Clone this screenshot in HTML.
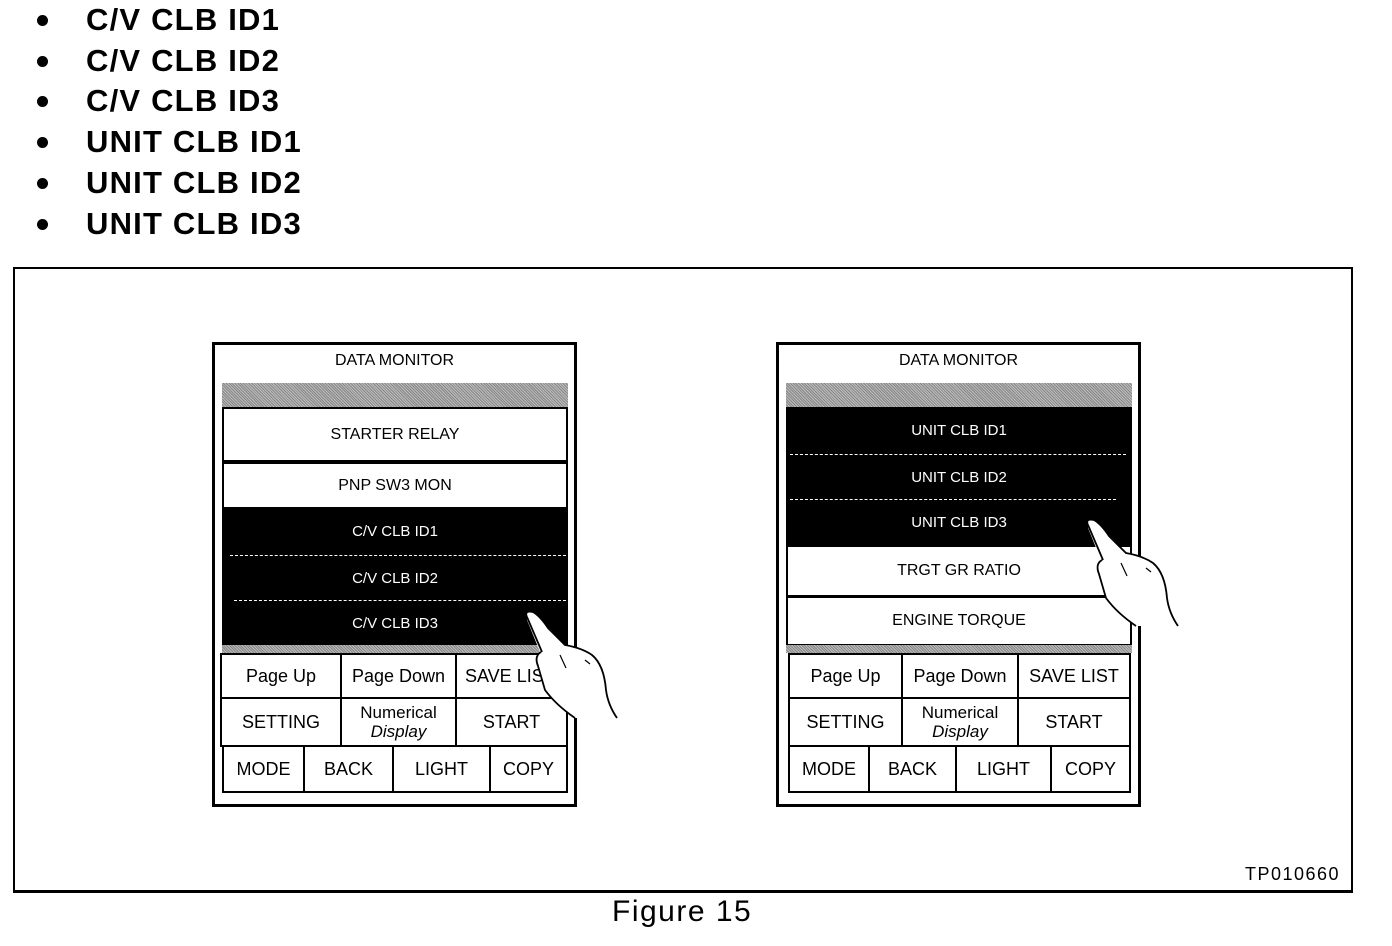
<!DOCTYPE html>
<html><head><meta charset="utf-8"><style>
body{margin:0;width:1392px;height:946px;background:#fff;position:relative;overflow:hidden;font-family:"Liberation Sans",Arial,sans-serif;color:#000}
.a{position:absolute;box-sizing:border-box}
.c{display:flex;align-items:center;justify-content:center;text-align:center}
.bl{font-weight:bold;font-size:31px;left:86px;letter-spacing:1.2px;line-height:34px}
.dot{left:37px;width:11px;height:11px;border-radius:50%;background:#000}
.gray{background:repeating-linear-gradient(45deg,#888 0 1px,#bbb 1px 2px);}
.blk{background:#000;color:#fff;font-size:15px}
.wr{background:#fff;border:2px solid #000;font-size:16px}
.btn{border:2px solid #000;background:#fff;font-size:18px;line-height:19px}
.dash{border-top:1px dashed #fff;height:0}
</style></head><body>
<div class="a dot" style="top:15px"></div><div class="a bl" style="top:3px">C/V CLB ID1</div>
<div class="a dot" style="top:56px"></div><div class="a bl" style="top:44px">C/V CLB ID2</div>
<div class="a dot" style="top:96px"></div><div class="a bl" style="top:84px">C/V CLB ID3</div>
<div class="a dot" style="top:137px"></div><div class="a bl" style="top:125px">UNIT CLB ID1</div>
<div class="a dot" style="top:178px"></div><div class="a bl" style="top:166px">UNIT CLB ID2</div>
<div class="a dot" style="top:219px"></div><div class="a bl" style="top:207px">UNIT CLB ID3</div>

<div class="a" style="left:13px;top:267px;width:1340px;height:626px;border:2px solid #000;border-bottom-width:3px"></div>
<div class="a" style="left:1245px;top:864px;font-size:18px;letter-spacing:1.5px">TP010660</div>
<div class="a" style="left:612px;top:895px;font-size:30px;letter-spacing:1.5px">Figure 15</div>

<!-- LEFT PANEL -->
<div class="a" style="left:212px;top:342px;width:365px;height:465px;border:3px solid #000"></div>
<div class="a c" style="left:212px;top:349px;width:365px;height:24px;font-size:16px">DATA MONITOR</div>
<div class="a gray" style="left:222px;top:383px;width:346px;height:25px"></div>
<div class="a c wr" style="left:222px;top:407px;width:346px;height:55px">STARTER RELAY</div>
<div class="a c wr" style="left:222px;top:462px;width:346px;height:47px">PNP SW3 MON</div>
<div class="a blk" style="left:222px;top:508px;width:346px;height:138px"></div>
<div class="a c blk" style="left:222px;top:508px;width:346px;height:46px">C/V CLB ID1</div>
<div class="a dash" style="left:230px;top:555px;width:336px"></div>
<div class="a c blk" style="left:222px;top:556px;width:346px;height:44px">C/V CLB ID2</div>
<div class="a dash" style="left:234px;top:600px;width:332px"></div>
<div class="a c blk" style="left:222px;top:601px;width:346px;height:44px">C/V CLB ID3</div>
<div class="a gray" style="left:222px;top:645px;width:346px;height:8px"></div>
<div class="a c btn" style="left:220px;top:653px;width:122px;height:46px">Page Up</div>
<div class="a c btn" style="left:340px;top:653px;width:117px;height:46px">Page Down</div>
<div class="a c btn" style="left:455px;top:653px;width:113px;height:46px;justify-content:flex-start;padding-left:8px">SAVE LIST</div>
<div class="a c btn" style="left:220px;top:697px;width:122px;height:50px">SETTING</div>
<div class="a c btn" style="left:340px;top:697px;width:117px;height:50px;font-size:17px"><span>Numerical<br><i>Display</i></span></div>
<div class="a c btn" style="left:455px;top:697px;width:113px;height:50px">START</div>
<div class="a c btn" style="left:222px;top:745px;width:83px;height:48px">MODE</div>
<div class="a c btn" style="left:303px;top:745px;width:91px;height:48px">BACK</div>
<div class="a c btn" style="left:392px;top:745px;width:99px;height:48px">LIGHT</div>
<div class="a c btn" style="left:489px;top:745px;width:79px;height:48px">COPY</div>

<!-- RIGHT PANEL -->
<div class="a" style="left:776px;top:342px;width:365px;height:465px;border:3px solid #000"></div>
<div class="a c" style="left:776px;top:349px;width:365px;height:24px;font-size:16px">DATA MONITOR</div>
<div class="a gray" style="left:786px;top:383px;width:346px;height:25px"></div>
<div class="a blk" style="left:786px;top:407px;width:346px;height:139px"></div>
<div class="a c blk" style="left:786px;top:408px;width:346px;height:45px">UNIT CLB ID1</div>
<div class="a dash" style="left:790px;top:454px;width:336px"></div>
<div class="a c blk" style="left:786px;top:455px;width:346px;height:44px">UNIT CLB ID2</div>
<div class="a dash" style="left:790px;top:499px;width:326px"></div>
<div class="a c blk" style="left:786px;top:500px;width:346px;height:44px">UNIT CLB ID3</div>
<div class="a c wr" style="left:786px;top:545px;width:346px;height:52px">TRGT GR RATIO</div>
<div class="a c wr" style="left:786px;top:596px;width:346px;height:50px">ENGINE TORQUE</div>
<div class="a gray" style="left:786px;top:645px;width:346px;height:8px"></div>
<div class="a c btn" style="left:788px;top:653px;width:115px;height:46px">Page Up</div>
<div class="a c btn" style="left:901px;top:653px;width:118px;height:46px">Page Down</div>
<div class="a c btn" style="left:1017px;top:653px;width:114px;height:46px">SAVE LIST</div>
<div class="a c btn" style="left:788px;top:697px;width:115px;height:50px">SETTING</div>
<div class="a c btn" style="left:901px;top:697px;width:118px;height:50px;font-size:17px"><span>Numerical<br><i>Display</i></span></div>
<div class="a c btn" style="left:1017px;top:697px;width:114px;height:50px">START</div>
<div class="a c btn" style="left:788px;top:745px;width:82px;height:48px">MODE</div>
<div class="a c btn" style="left:868px;top:745px;width:89px;height:48px">BACK</div>
<div class="a c btn" style="left:955px;top:745px;width:97px;height:48px">LIGHT</div>
<div class="a c btn" style="left:1050px;top:745px;width:81px;height:48px">COPY</div>

<svg class="a" style="left:0;top:0" width="1392" height="946">
<defs>
<g id="hand">
<path d="M527 613 Q532 609 538 616 L565 645 Q582 648 592 655 Q604 665 606 690 Q608 705 617 718 L575 718 Q555 705 545 690 L538 665 Q535 656 540 652 L527 620 Z" fill="#fff" stroke="none"/>
<path d="M527 617 Q524 610 533 612 Q540 616 548 628 L565 645 Q582 648 592 655 Q604 665 606 690 Q608 705 617 718" fill="none" stroke="#000" stroke-width="1.8"/>
<path d="M527 617 L542 652 M541 652 Q534 656 538 666 L545 690 Q556 705 575 718" fill="none" stroke="#000" stroke-width="1.8"/>
<path d="M560 655 L566 668 M585 660 L590 664" fill="none" stroke="#000" stroke-width="1.2"/>
</g>
</defs>
<use href="#hand"/>
<use href="#hand" transform="translate(561,-92)"/>
</svg>
</body></html>
